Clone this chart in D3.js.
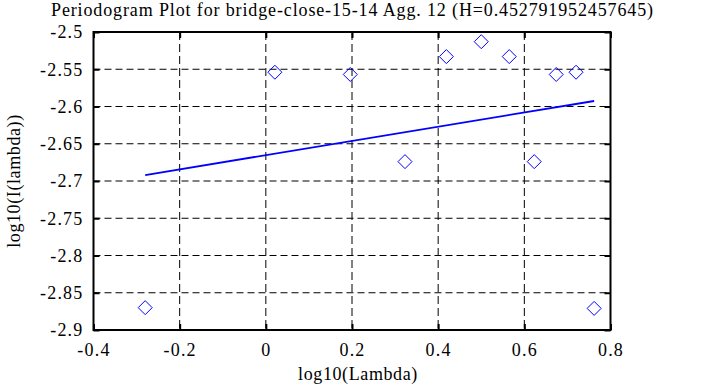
<!DOCTYPE html>
<html><head><meta charset="utf-8">
<script src="https://cdn.jsdelivr.net/npm/d3@7"></script>
<style>body{margin:0;background:#fff}svg{display:block}</style>
</head><body>
<svg id="c" width="705" height="387"></svg>
<script>
const title = "Periodogram Plot for bridge-close-15-14 Agg. 12 (H=0.452791952457645)";
const xLabel = "log10(Lambda)";
const yLabel = "log10(I(lambda))";
const xTicks = [-0.4, -0.2, 0, 0.2, 0.4, 0.6, 0.8];
const yTicks = [-2.5, -2.55, -2.6, -2.65, -2.7, -2.75, -2.8, -2.85, -2.9];
const pointsX = [-0.280, 0.021, 0.196, 0.323, 0.419, 0.500, 0.565, 0.623, 0.674, 0.720, 0.762];
const pointsY = [-2.870, -2.554, -2.557, -2.674, -2.533, -2.513, -2.533, -2.674, -2.557, -2.554, -2.871];
const fitX = [-0.280, 0.762];
const fitY = [-2.692, -2.5926];

const FONT = '"Liberation Serif","Times New Roman",serif';
const svg = d3.select("#c");
const L = 93.5, R = 610.5, T = 32, B = 330;
const x = d3.scaleLinear().domain([-0.4, 0.8]).range([L, R]);
const y = d3.scaleLinear().domain([-2.9, -2.5]).range([B, T]);

// grid
const g = svg.append("g");
g.selectAll(".vg").data(xTicks.slice(1, -1)).enter().append("line")
  .attr("x1", d => x(d)).attr("x2", d => x(d)).attr("y1", T).attr("y2", B)
  .attr("stroke", "#000").attr("stroke-width", 1).attr("stroke-dasharray", "8,4");
g.selectAll(".hg").data(yTicks.slice(1, -1)).enter().append("line")
  .attr("y1", d => y(d)).attr("y2", d => y(d)).attr("x1", L).attr("x2", R)
  .attr("stroke", "#000").attr("stroke-width", 1).attr("stroke-dasharray", "7,4");

const fmt = d => String(+d.toFixed(2));
const axB = svg.append("g").attr("transform", `translate(0,${B})`)
  .call(d3.axisBottom(x).tickValues(xTicks).tickSize(-6).tickPadding(13).tickFormat(fmt));
const axT = svg.append("g").attr("transform", `translate(0,${T})`)
  .call(d3.axisTop(x).tickValues(xTicks).tickSize(-6).tickFormat(""));
const axL = svg.append("g").attr("transform", `translate(${L},0)`)
  .call(d3.axisLeft(y).tickValues(yTicks).tickSize(-6).tickPadding(10).tickFormat(fmt));
const axR = svg.append("g").attr("transform", `translate(${R},0)`)
  .call(d3.axisRight(y).tickValues(yTicks).tickSize(-6).tickFormat(""));
[axB, axT, axL, axR].forEach(a => {
  a.attr("font-family", null).attr("font-size", null);
  a.select(".domain").remove();
  a.selectAll(".tick line").attr("stroke", "#000").attr("stroke-width", 2);
  a.selectAll("text").style("font-family", FONT).style("font-size", "18px")
    .style("letter-spacing", "1.2px").attr("fill", "#000");
});
axB.selectAll("text").attr("dy", "0.71em");

// frame
svg.append("rect").attr("x", L).attr("y", T).attr("width", R - L).attr("height", B - T)
  .attr("fill", "none").attr("stroke", "#000").attr("stroke-width", 2);

// fit line
svg.append("line").attr("x1", x(fitX[0])).attr("y1", y(fitY[0])).attr("x2", x(fitX[1])).attr("y2", y(fitY[1]))
  .attr("stroke", "#0000ff").attr("stroke-width", 1.8);

// points (diamonds)
const s = 7;
svg.selectAll(".pt").data(pointsX.map((d, i) => [d, pointsY[i]])).enter().append("path")
  .attr("d", d => { const cx = x(d[0]), cy = y(d[1]); return `M${cx},${cy - s}L${cx + s},${cy}L${cx},${cy + s}L${cx - s},${cy}Z`; })
  .attr("fill", "none").attr("stroke", "#0000ff").attr("stroke-width", 1);

// labels
function lab(sel) { return sel.style("font-family", FONT).style("font-size", "18px").attr("fill", "#000"); }
lab(svg.append("text").attr("x", 51).attr("y", 16).attr("textLength", 602).attr("lengthAdjust", "spacing").text(title));
lab(svg.append("text").attr("x", 358).attr("y", 380).attr("text-anchor", "middle").style("letter-spacing", "0.6px").text(xLabel));
lab(svg.append("text").attr("transform", "translate(20,181) rotate(-90)").attr("text-anchor", "middle").style("letter-spacing", "0.6px").text(yLabel));
</script>
</body></html>
